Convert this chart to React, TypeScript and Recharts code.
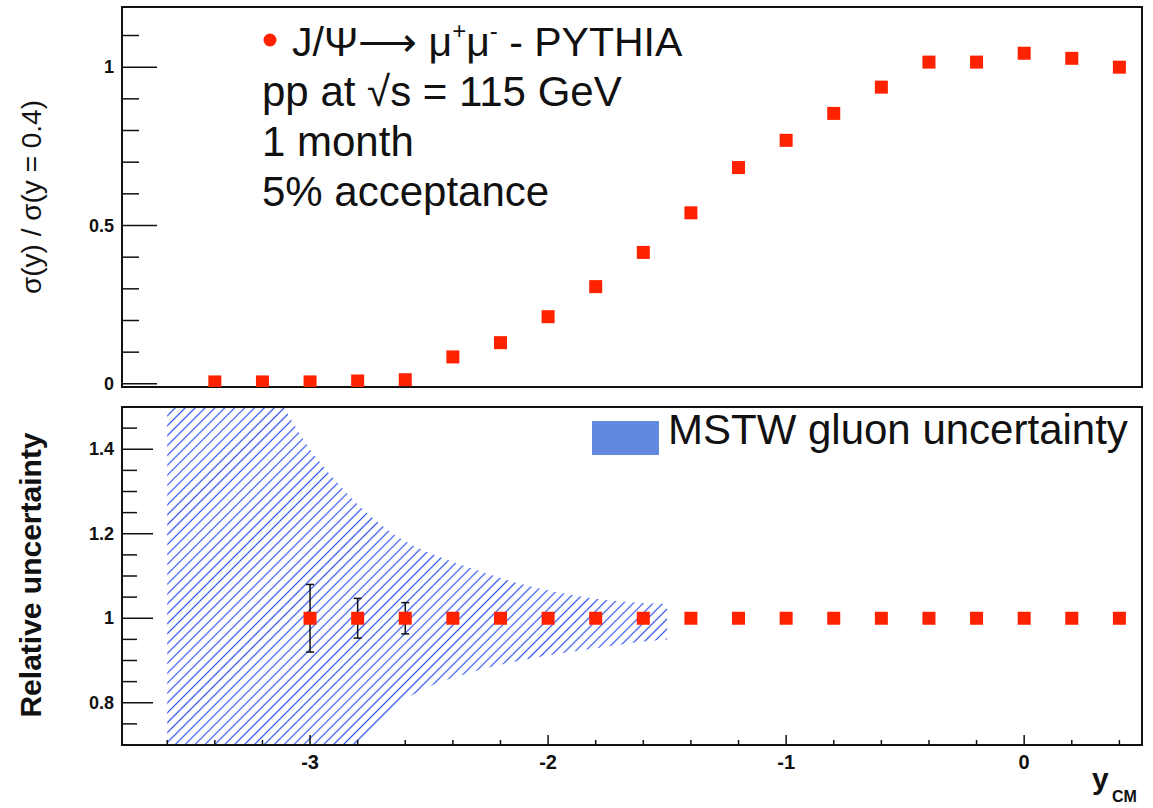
import React from 'react';
import { ComposedChart, Scatter, Area, XAxis, YAxis, ErrorBar, ReferenceArea } from 'recharts';

// rapidity bin centres and PYTHIA cross-section ratio (top pad)
const rapidity = [-3.4, -3.2, -3, -2.8, -2.6, -2.4, -2.2, -2, -1.8, -1.6, -1.4, -1.2, -1, -0.8, -0.6, -0.4, -0.2, 0, 0.2, 0.4];
const sigmaRatio = [0.006, 0.006, 0.006, 0.009, 0.013, 0.085, 0.13, 0.212, 0.307, 0.415, 0.54, 0.683, 0.769, 0.854, 0.937, 1.016, 1.016, 1.044, 1.028, 1.0];

// relative uncertainty points (bottom pad)
const uncRapidity = [-3, -2.8, -2.6, -2.4, -2.2, -2, -1.8, -1.6, -1.4, -1.2, -1, -0.8, -0.6, -0.4, -0.2, 0, 0.2, 0.4];
const uncValue = [1, 1, 1, 1, 1, 1, 1, 1, 1, 1, 1, 1, 1, 1, 1, 1, 1, 1];
const uncError = [0.08, 0.047, 0.037, 0, 0, 0, 0, 0, 0, 0, 0, 0, 0, 0, 0, 0, 0, 0];

// MSTW gluon uncertainty band
const bandX = [-3.6, -3.5, -3.4, -3.3, -3.2, -3.1, -3, -2.9, -2.8, -2.7, -2.6, -2.5, -2.4, -2.3, -2.2, -2.1, -2, -1.9, -1.8, -1.7, -1.6, -1.5];
const bandLow = [0, 0, 0.1, 0.22, 0.36, 0.46, 0.55, 0.625, 0.695, 0.762, 0.808, 0.838, 0.859, 0.876, 0.89, 0.902, 0.912, 0.921, 0.929, 0.937, 0.945, 0.95];
const bandHigh = [2.2, 2.02, 1.86, 1.72, 1.6, 1.49, 1.4, 1.33, 1.27, 1.22, 1.182, 1.155, 1.133, 1.114, 1.095, 1.079, 1.066, 1.055, 1.046, 1.04, 1.036, 1.034];

const xTicks = [-3.6, -3.4, -3.2, -3, -2.8, -2.6, -2.4, -2.2, -2, -1.8, -1.6, -1.4, -1.2, -1, -0.8, -0.6, -0.4, -0.2, 0, 0.2, 0.4];
const topYTicks = [0, 0.1, 0.2, 0.3, 0.4, 0.5, 0.6, 0.7, 0.8, 0.9, 1, 1.1];
const bottomYTicks = [0.75, 0.8, 0.85, 0.9, 0.95, 1, 1.05, 1.1, 1.15, 1.2, 1.25, 1.3, 1.35, 1.4, 1.45];

const X_DOMAIN = [-3.79, 0.495];
const TOP_DOMAIN = [-0.01, 1.19];
const BOTTOM_DOMAIN = [0.7, 1.5];

const RED = '#ff2200';
const INK = '#111';
const FONT = '"Liberation Sans", Arial, Helvetica, sans-serif';

const topData = rapidity.map((x, i) => ({ x, y: sigmaRatio[i] }));
const uncData = uncRapidity.map((x, i) => ({ x, y: uncValue[i], err: uncError[i] }));
const bandData = bandX.map((x, i) => ({ x, band: [bandLow[i], bandHigh[i]] }));

const axisLine = { stroke: INK, strokeWidth: 2 };

const Square = (props: any) => (
  <rect x={props.cx - 6.5} y={props.cy - 6.5} width={13} height={13} fill={RED} />
);

function XTick(props: any) {
  const { x, y, payload, labels } = props;
  const v = payload.value;
  const major = Number.isInteger(v);
  return (
    <g>
      <line x1={x} x2={x} y1={y} y2={y - (major ? 10 : 5)} stroke={INK} strokeWidth={1.5} />
      {labels && major && (
        <text x={x} y={y + 24} textAnchor="middle" fontSize={20} fontWeight="bold" fontFamily={FONT} fill={INK}>
          {v}
        </text>
      )}
    </g>
  );
}

function YTick(props: any) {
  const { x, y, payload, step, majorLen, minorLen } = props;
  const v = payload.value;
  const major = Math.abs(v / step - Math.round(v / step)) < 1e-6;
  return (
    <g>
      <line x1={x} x2={x + (major ? majorLen : minorLen)} y1={y} y2={y} stroke={INK} strokeWidth={1.5} />
      {major && (
        <text x={x - 8} y={y} textAnchor="end" dominantBaseline="central" fontSize={18} fontWeight="bold" fontFamily={FONT} fill={INK}>
          {v}
        </text>
      )}
    </g>
  );
}

function Frame({ yDomain }: { yDomain: number[] }) {
  return (
    <ReferenceArea x1={X_DOMAIN[0]} x2={X_DOMAIN[1]} y1={yDomain[0]} y2={yDomain[1]}
      fill="none" fillOpacity={0} stroke={INK} strokeWidth={2} ifOverflow="visible" />
  );
}

function TopPad() {
  return (
    <ComposedChart width={1153} height={400} margin={{ top: 7, right: 11, bottom: 13, left: 0 }}>
      <XAxis dataKey="x" type="number" domain={X_DOMAIN} ticks={xTicks} interval={0} height={0}
        tickSize={0} tickMargin={0} tickLine={false} tick={(p: any) => <XTick {...p} labels={false} />}
        axisLine={axisLine} allowDataOverflow />
      <YAxis dataKey="y" type="number" domain={TOP_DOMAIN} ticks={topYTicks} interval={0} width={122}
        tickSize={0} tickMargin={0} tickLine={false}
        tick={(p: any) => <YTick {...p} step={0.5} majorLen={35} minorLen={17} />}
        axisLine={axisLine} allowDataOverflow />
      {Frame({ yDomain: TOP_DOMAIN })}
      <Scatter data={topData} shape={Square} isAnimationActive={false} />
    </ComposedChart>
  );
}

function BottomPad() {
  return (
    <ComposedChart width={1153} height={408} margin={{ top: 7, right: 11, bottom: 0, left: 0 }}>
      <XAxis dataKey="x" type="number" domain={X_DOMAIN} ticks={xTicks} interval={0} height={63}
        tickSize={0} tickMargin={0} tickLine={false} tick={(p: any) => <XTick {...p} labels />}
        axisLine={axisLine} allowDataOverflow />
      <YAxis dataKey="y" type="number" domain={BOTTOM_DOMAIN} ticks={bottomYTicks} interval={0} width={122}
        tickSize={0} tickMargin={0} tickLine={false}
        tick={(p: any) => <YTick {...p} step={0.2} majorLen={31} minorLen={15} />}
        axisLine={axisLine} allowDataOverflow />
      <Area data={bandData} dataKey="band" type="monotone" fill="url(#hatch)" fillOpacity={1}
        stroke="none" dot={false} activeDot={false} isAnimationActive={false} />
      {Frame({ yDomain: BOTTOM_DOMAIN })}
      <Scatter data={uncData} shape={Square} isAnimationActive={false}>
        <ErrorBar dataKey="err" direction="y" width={4} stroke={INK} strokeWidth={1.5} />
      </Scatter>
    </ComposedChart>
  );
}

function Overlay() {
  const t = { fontFamily: FONT, fill: INK };
  return (
    <svg width={1153} height={808} style={{ position: 'absolute', left: 0, top: 0, pointerEvents: 'none' }}>
      <circle cx={270} cy={40} r={6.5} fill={RED} />
      <text x={292} y={56} fontSize={41} {...t} style={{ whiteSpace: 'pre' }}>
        <tspan>J/Ψ⟶ μ</tspan>
        <tspan fontSize={24} dy={-17}>+</tspan>
        <tspan dy={17}>μ</tspan>
        <tspan fontSize={24} dy={-17}>-</tspan>
        <tspan dy={17}> - PYTHIA</tspan>
      </text>
      <text x={262} y={106} fontSize={42} {...t}>pp at √s = 115 GeV</text>
      <text x={262} y={156} fontSize={42} {...t}>1 month</text>
      <text x={262} y={206} fontSize={42} {...t}>5% acceptance</text>

      <text transform="translate(31,197) rotate(-90)" textAnchor="middle" dominantBaseline="central"
        fontSize={28} {...t}>σ(y) / σ(y = 0.4)</text>
      <text transform="translate(30,575) rotate(-90)" textAnchor="middle" dominantBaseline="central"
        fontSize={30} fontWeight="bold" {...t}>Relative uncertainty</text>

      <rect x={592} y={421} width={67} height={34} fill="#6389de" />
      <text x={668} y={444} fontSize={42} {...t}>MSTW gluon uncertainty</text>

      <text x={1092} y={789} fontSize={30} fontWeight="bold" {...t}>y</text>
      <text x={1112} y={802} fontSize={16} fontWeight="bold" {...t}>CM</text>
    </svg>
  );
}

export default function App() {
  return (
    <div style={{ position: 'absolute', left: 0, top: 0, width: 1153, height: 808, background: '#fff' }}>
      <svg width={0} height={0} style={{ position: 'absolute' }}>
        <defs>
          <pattern id="hatch" patternUnits="userSpaceOnUse" width={7} height={7} patternTransform="rotate(45)">
            <line x1={3.5} y1={0} x2={3.5} y2={7} stroke="#2f52f0" strokeWidth={1.2} />
          </pattern>
        </defs>
      </svg>
      <div style={{ position: 'absolute', left: 0, top: 0 }}>
        <TopPad />
      </div>
      <div style={{ position: 'absolute', left: 0, top: 400 }}>
        <BottomPad />
      </div>
      <Overlay />
    </div>
  );
}
